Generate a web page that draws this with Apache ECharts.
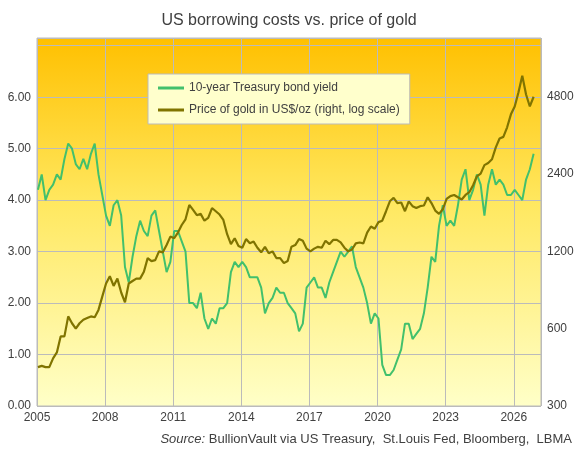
<!DOCTYPE html>
<html><head><meta charset="utf-8">
<script src="https://cdn.jsdelivr.net/npm/echarts@6/dist/echarts.min.js"></script>
<style>html,body{margin:0;padding:0;background:#fff}#c{width:578px;height:452px}</style>
</head><body><div id="c"></div>
<script>
// Bi-monthly observations (Jan, Mar, May, Jul, Sep, Nov) from 2005 through 2026
const startYear = 2005;
const yieldValues = [
4.2,4.5,4.0,4.2,4.3,4.5,
4.4,4.8,5.1,5.0,4.7,4.6,
4.8,4.6,4.9,5.1,4.5,4.1,
3.7,3.5,3.9,4.0,3.7,2.7,
2.4,2.9,3.3,3.6,3.4,3.3,
3.7,3.8,3.4,3.0,2.6,2.8,
3.4,3.4,3.2,3.0,2.0,2.0,
1.9,2.2,1.7,1.5,1.7,1.6,
1.9,1.9,2.0,2.6,2.8,2.7,
2.8,2.7,2.5,2.5,2.5,2.3,
1.8,2.0,2.1,2.3,2.2,2.2,
2.0,1.9,1.8,1.45,1.6,2.3,
2.4,2.5,2.3,2.3,2.1,2.4,
2.6,2.8,3.0,2.9,3.0,3.1,
2.7,2.5,2.3,2.0,1.6,1.8,
1.7,0.8,0.6,0.6,0.7,0.9,
1.1,1.6,1.6,1.3,1.4,1.5,
1.8,2.3,2.9,2.8,3.5,3.9,
3.5,3.6,3.5,3.9,4.4,4.6,
4.0,4.2,4.5,4.3,3.7,4.3,
4.6,4.3,4.4,4.3,4.1,4.1,
4.2,4.1,4.0,4.4,4.6,4.9];
const goldValues = [
425,430,425,425,460,485,
560,560,670,630,600,630,
650,660,670,665,710,800,
900,960,880,940,830,760,
900,920,940,940,1000,1130,
1100,1110,1200,1190,1270,1370,
1350,1420,1520,1600,1820,1740,
1660,1680,1580,1620,1770,1720,
1670,1590,1400,1280,1350,1260,
1240,1340,1290,1310,1240,1190,
1250,1180,1200,1130,1130,1080,
1100,1250,1270,1340,1320,1230,
1200,1230,1250,1240,1320,1280,
1330,1330,1300,1240,1200,1220,
1290,1300,1290,1420,1500,1470,
1560,1580,1720,1880,1940,1850,
1860,1720,1880,1800,1770,1800,
1810,1950,1850,1730,1680,1750,
1920,1970,1990,1950,1910,1990,
2040,2170,2350,2410,2600,2650,
2740,3050,3300,3350,3650,4100,
4400,5000,5800,4900,4400,4800];
const yieldTicks = [0,1,2,3,4,5,6];
const goldTicks = [300,600,1200,2400,4800];

const dates = yieldValues.map((v,i)=>startYear + i/6 + 1/24);
const yieldData = dates.map((d,i)=>[d, yieldValues[i]]);
const goldData = dates.map((d,i)=>[d, Math.log2(goldValues[i]/goldTicks[0])]);

const font = 'Liberation Sans';
const chart = echarts.init(document.getElementById('c'));
chart.setOption({
  animation:false,
  title:{text:'US borrowing costs vs. price of gold',left:'center',top:8,
    textStyle:{fontFamily:font,fontSize:16,fontWeight:'normal',color:'#404040'}},
  legend:{orient:'vertical',left:148,top:74,width:257,padding:[8,10,8,10],itemGap:10,
    backgroundColor:'#FFFFCC',borderColor:'#BBBBBB',borderWidth:1,
    itemWidth:26,itemHeight:3,icon:'rect',
    textStyle:{fontFamily:font,fontSize:12,color:'#404040'}},
  grid:{left:37,right:37,top:38,bottom:46,show:true,borderColor:'#BBBBBB',borderWidth:1,
    backgroundColor:new echarts.graphic.LinearGradient(0,0,0,1,[
      {offset:0,color:'#FFC000'},{offset:0.45,color:'#FFE860'},{offset:1,color:'#FFFFC8'}])},
  xAxis:{type:'value',min:2005,max:2027.2,interval:3,
    axisLine:{show:false},axisTick:{show:false},
    splitLine:{show:true,lineStyle:{color:'#BBBBBB'}},
    axisLabel:{showMaxLabel:false,fontFamily:font,fontSize:12,color:'#404040',margin:6,
      formatter:v=>(v>2026.5?'':String(v))}},
  yAxis:[
    {type:'value',min:0,max:7.15,interval:1,position:'left',
     axisLine:{show:false},axisTick:{show:false},
     splitLine:{show:true,lineStyle:{color:'#BBBBBB'}},
     axisLabel:{fontFamily:font,fontSize:12,color:'#404040',margin:6,
       formatter:v=>(v>yieldTicks[yieldTicks.length-1]?'':v.toFixed(2))}},
    {type:'value',min:0,max:4.76,interval:1,position:'right',
     axisLine:{show:false},axisTick:{show:false},splitLine:{show:false},
     axisLabel:{fontFamily:font,fontSize:12,color:'#404040',margin:6,
       formatter:v=>{const p=Math.round(goldTicks[0]*Math.pow(2,v));return goldTicks.indexOf(p)>=0?String(p):'';}}}
  ],
  series:[
    {name:'10-year Treasury bond yield',type:'line',yAxisIndex:0,data:yieldData,
     symbol:'none',lineStyle:{color:'#42C06C',width:2},itemStyle:{color:'#42C06C'},z:2},
    {name:'Price of gold in US$/oz (right, log scale)',type:'line',yAxisIndex:1,data:goldData,
     symbol:'none',lineStyle:{color:'#807400',width:2.2},itemStyle:{color:'#807400'},z:3}
  ],
  graphic:[{type:'text',right:6,top:433,style:{
    text:'{i|Source:} BullionVault via US Treasury,  St.Louis Fed, Bloomberg,  LBMA',
    font:'13px '+font,fill:'#404040',
    rich:{i:{fontStyle:'italic',fontFamily:font,fontSize:13,fill:'#404040'}}}}]
});
</script></body></html>
